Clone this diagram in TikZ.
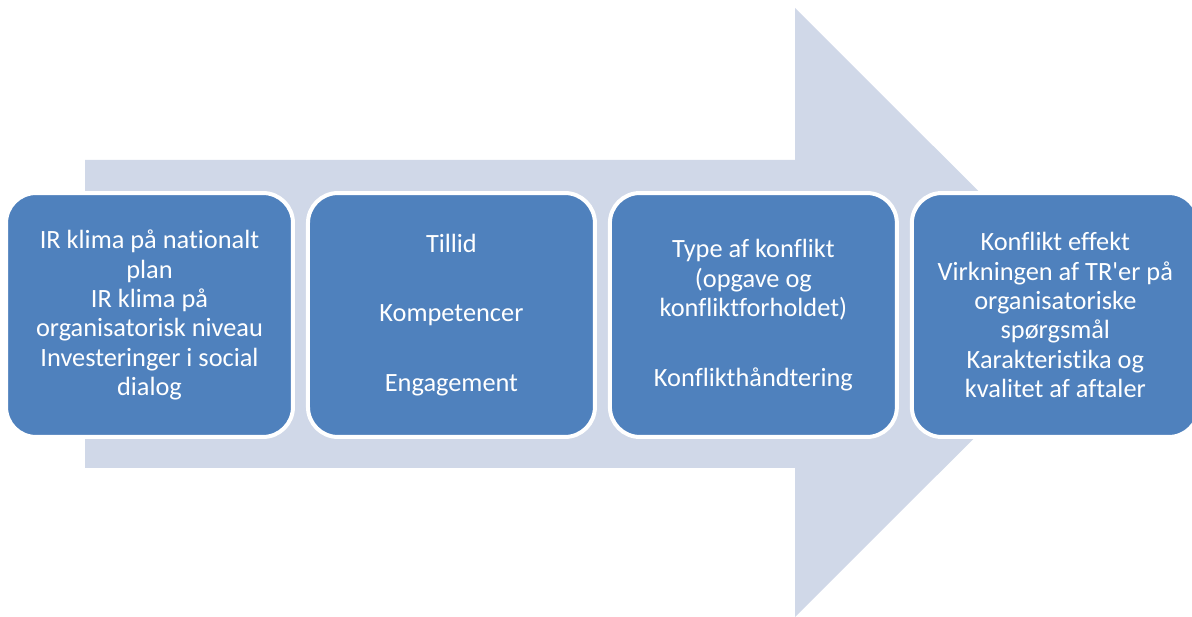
\documentclass[tikz,border=0pt]{standalone}
\usepackage{fontspec}
\setmainfont{Carlito}[Ligatures=NoCommon]
\usepackage{tikz}
\usetikzlibrary{positioning}

\definecolor{stageblue}{HTML}{4F81BD}
\definecolor{arrowgray}{HTML}{D0D8E8}

\begin{document}
\begin{tikzpicture}[x=0.02cm,y=-0.02cm,
	stage/.style={rectangle,draw=white,fill=stageblue,line width=0.08cm,rounded corners=0.6cm, minimum width=5.74cm, minimum height=4.88cm, inner sep=0pt, outer sep=0pt, align=center, text=white, font=\fontsize{15}{16.7}\selectfont},
	bigarrow/.style={fill=arrowgray}
	] % End styles

\useasboundingbox (0,0) rectangle (1192,617);

% background arrow
\fill[bigarrow] (85,160) -- (795,160) -- (795,8) -- (1100,312.5) -- (795,617) -- (795,468) -- (85,468) -- cycle;

% stages
\node [stage] at (149.5,315) (stage1) {IR klima på nationalt\\ plan\\ IR klima på\\ organisatorisk niveau\\ Investeringer i social\\ dialog};
\node [stage] [right = 0.3cm of stage1] (stage2) {Tillid\\[23pt] Kompetencer\\[23pt] Engagement};
\node [stage] [right = 0.3cm of stage2] (stage3) {Type af konflikt\\ (opgave og\\ konfliktforholdet)\\[23pt] Konflikthåndtering};
\node [stage] [right = 0.3cm of stage3] (stage4) {Konflikt effekt\\ Virkningen af TR\textquotesingle er på\\ organisatoriske\\ spørgsmål\\ Karakteristika og\\ kvalitet af aftaler};

\end{tikzpicture}
\end{document}
